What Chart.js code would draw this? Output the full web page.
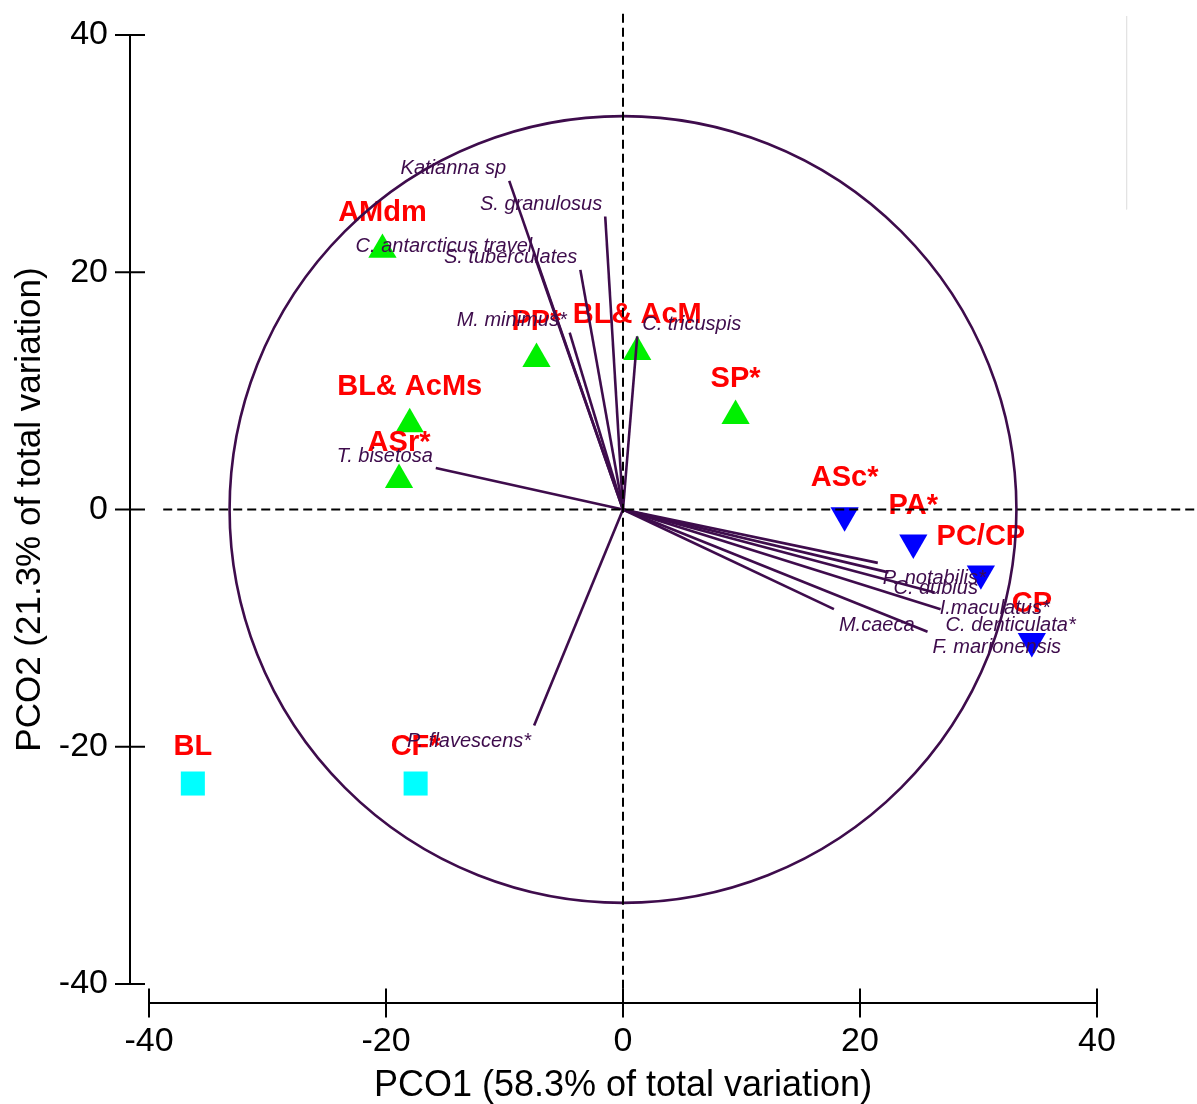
<!DOCTYPE html>
<html><head><meta charset="utf-8">
<script src="https://cdn.jsdelivr.net/npm/chart.js@4.4.1/dist/chart.umd.min.js"></script>
<style>html,body{margin:0;padding:0;background:#fff;}#wrap{width:1197px;height:1104px;}</style>
</head><body><div id="wrap"><canvas id="c" width="1197" height="1104"></canvas></div>
<script>
// ---- data ----
const xTicks = [-40, -20, 0, 20, 40];
const yTicks = [-40, -20, 0, 20, 40];
const xTitle = 'PCO1 (58.3% of total variation)';
const yTitle = 'PCO2 (21.3% of total variation)';

const greenNames = ['AMdm', 'PP*', 'BL& AcM', 'SP*', 'BL& AcMs', 'ASr*'];
const greenX = [-20.3, -7.3, 1.2, 9.5, -18.0, -18.9];
const greenY = [21.9, 12.7, 13.3, 7.9, 7.2, 2.5];

const blueNames = ['ASc*', 'PA*', 'PC/CP', 'CP'];
const blueX = [18.7, 24.5, 30.2, 34.5];
const blueY = [-0.5, -2.8, -5.4, -11.1];

const cyanNames = ['BL', 'CF*'];
const cyanX = [-36.3, -17.5];
const cyanY = [-23.1, -23.1];

const species = ['Katianna sp', 'S. granulosus', 'C. antarcticus travel', 'S. tuberculates',
  'M. minimus*', 'C. tricuspis', 'T. bisetosa', 'P. flavescens*', 'P. notabilis*', 'C. dubius',
  'I.maculatus*', 'C. denticulata*', 'F. marionensis', 'M.caeca'];
const vecX = [-9.6, -1.5, -7.4, -3.6, -4.5, 1.2, -15.8, -7.5, 21.5, 22.4, 26.3, 26.8, 25.7, 17.8];
const vecY = [27.7, 24.7, 21.2, 20.2, 14.9, 14.6, 3.5, -18.2, -4.5, -5.3, -7.0, -8.4, -10.3, -8.4];

const circleRadius = 33.2;
const vDashY = [41.8, -41.3];
const hDashX = [-38.8, 48.5];
const edgeLineX = [42.5, 42.5];
const edgeLineY = [41.6, 25.3];

// ---- styles ----
const ink = '#3e0c4c';
const FAM = '"Liberation Sans", Arial, Helvetica, sans-serif';
Chart.defaults.font.family = FAM;

const pts = (xs, ys) => xs.map((x, i) => ({x: x, y: ys[i]}));

const datasets = [];
datasets.push({kind: 'marker', data: pts(greenX, greenY), pointStyle: 'triangle', pointRadius: 16.3,
  pointBackgroundColor: '#00f000', pointBorderWidth: 0, showLine: false, order: 2, clip: false});
datasets.push({kind: 'marker', data: pts(blueX, blueY), pointStyle: 'triangle', pointRotation: 180, pointRadius: 16.3,
  pointBackgroundColor: '#0000ff', pointBorderWidth: 0, showLine: false, order: 2, clip: false});
datasets.push({kind: 'marker', data: pts(cyanX, cyanY), pointStyle: 'rect', pointRadius: 17,
  pointBackgroundColor: '#00ffff', pointBorderWidth: 0, showLine: false, order: 2, clip: false});

datasets.push({kind: 'line', data: [{x: 0, y: vDashY[0]}, {x: 0, y: vDashY[1]}], showLine: true, pointRadius: 0,
  borderColor: '#000', borderWidth: 2, borderDash: [9, 5], order: 1, clip: false});
datasets.push({kind: 'line', data: [{x: hDashX[0], y: 0}, {x: hDashX[1], y: 0}], showLine: true, pointRadius: 0,
  borderColor: '#000', borderWidth: 2, borderDash: [9, 5], order: 1, clip: false});
datasets.push({kind: 'line', data: pts(edgeLineX, edgeLineY), showLine: true, pointRadius: 0,
  borderColor: '#e4e4e4', borderWidth: 1, order: 1, clip: false});
species.forEach((s, i) => {
  datasets.push({kind: 'line', data: [{x: 0, y: 0}, {x: vecX[i], y: vecY[i]}], showLine: true, pointRadius: 0,
    borderColor: ink, borderWidth: 2.6, order: 1, clip: false});
});

function drawRedAndCircle(chart) {
  const ctx = chart.ctx, xs = chart.scales.x, ys = chart.scales.y;
  ctx.save();
  ctx.font = 'bold 29px ' + FAM;
  ctx.fillStyle = '#ff0000';
  ctx.textAlign = 'center';
  ctx.textBaseline = 'middle';
  const put = (names, X, Y) => names.forEach((n, i) => {
    ctx.fillText(n, xs.getPixelForValue(X[i]), ys.getPixelForValue(Y[i]) - 37);
  });
  put(greenNames, greenX, greenY);
  put(blueNames, blueX, blueY);
  put(cyanNames, cyanX, cyanY);
  const cx = xs.getPixelForValue(0), cy = ys.getPixelForValue(0);
  const r = xs.getPixelForValue(circleRadius) - cx;
  ctx.beginPath();
  ctx.arc(cx, cy, r, 0, Math.PI * 2);
  ctx.strokeStyle = ink;
  ctx.lineWidth = 2.6;
  ctx.stroke();
  ctx.restore();
}

const overlay = {
  id: 'overlay',
  beforeDatasetsDraw(chart) { chart.$redDone = false; },
  beforeDatasetDraw(chart, args) {
    if (chart.$redDone) return;
    const ds = chart.data.datasets[args.index];
    if (ds.kind !== 'line') return;
    chart.$redDone = true;
    drawRedAndCircle(chart);
  },
  afterDatasetsDraw(chart) {
    if (!chart.$redDone) { chart.$redDone = true; drawRedAndCircle(chart); }
    const ctx = chart.ctx, xs = chart.scales.x, ys = chart.scales.y;
    ctx.save();
    ctx.font = 'italic 20px ' + FAM;
    ctx.fillStyle = ink;
    ctx.textBaseline = 'middle';
    species.forEach((s, i) => {
      const px = xs.getPixelForValue(vecX[i]), py = ys.getPixelForValue(vecY[i]);
      const leftSide = vecX[i] < 0;
      ctx.textAlign = leftSide ? 'right' : 'left';
      ctx.fillText(s, px + (leftSide ? -3 : 5), py + (vecY[i] >= 0 ? -12 : 16));
    });
    ctx.restore();
  },
  afterDraw(chart) {
    const ctx = chart.ctx, xs = chart.scales.x, ys = chart.scales.y, ca = chart.chartArea;
    ctx.save();
    ctx.strokeStyle = '#000';
    ctx.lineWidth = 2;
    ctx.beginPath();
    const ax = ca.left - 19;
    ctx.moveTo(ax, ys.getPixelForValue(yTicks[yTicks.length - 1]));
    ctx.lineTo(ax, ys.getPixelForValue(yTicks[0]));
    yTicks.forEach(v => { const p = ys.getPixelForValue(v); ctx.moveTo(ax - 15, p); ctx.lineTo(ax + 15, p); });
    const ay = ca.bottom + 19;
    ctx.moveTo(xs.getPixelForValue(xTicks[0]), ay);
    ctx.lineTo(xs.getPixelForValue(xTicks[xTicks.length - 1]), ay);
    xTicks.forEach(v => { const p = xs.getPixelForValue(v); ctx.moveTo(p, ay - 14.5); ctx.lineTo(p, ay + 14.5); });
    ctx.stroke();
    ctx.restore();
  }
};

new Chart(document.getElementById('c'), {
  type: 'scatter',
  data: {datasets: datasets},
  options: {
    responsive: false,
    animation: false,
    devicePixelRatio: 1,
    layout: {padding: {left: 0, top: 35, right: 100, bottom: 0}},
    plugins: {legend: {display: false}, tooltip: {enabled: false}},
    events: [],
    scales: {
      x: {
        type: 'linear', position: 'bottom', min: -40, max: 40,
        grid: {display: false, drawTicks: false}, border: {display: false},
        ticks: {padding: 41, color: '#000', font: {size: 34, lineHeight: 1}, maxRotation: 0, autoSkip: false},
        afterBuildTicks: s => { s.ticks = xTicks.map(v => ({value: v})); },
        afterFit: s => { s.height = 120; },
        title: {display: true, text: xTitle, color: '#000', font: {size: 36, lineHeight: 1}, padding: {top: 0, bottom: 0}}
      },
      y: {
        type: 'linear', position: 'left', min: -40, max: 40,
        grid: {display: false, drawTicks: true, tickLength: 23}, border: {display: false},
        ticks: {padding: 18, color: '#000', font: {size: 34, lineHeight: 1}, autoSkip: false},
        afterBuildTicks: s => { s.ticks = yTicks.map(v => ({value: v})); },
        afterFit: s => { s.width = 149; },
        title: {display: true, text: yTitle, color: '#000', font: {size: 35, lineHeight: 1}, padding: {top: 13, bottom: 0}}
      }
    }
  },
  plugins: [overlay]
});
</script>
</body></html>
